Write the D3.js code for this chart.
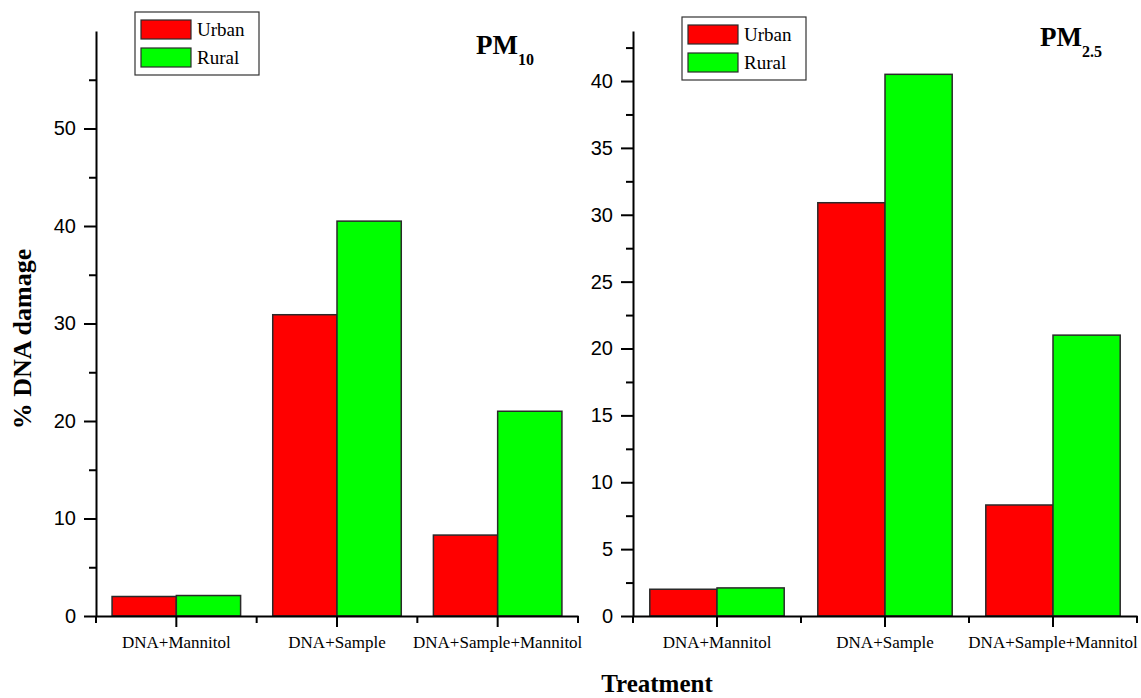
<!DOCTYPE html>
<html>
<head>
<meta charset="utf-8">
<script src="https://cdn.jsdelivr.net/npm/d3@7"></script>
<style>
  body { margin: 0; background: #fff; }
  svg { display: block; }
  .tick text { fill: #000; }
  .yax text { font-family: "Liberation Sans", Arial, sans-serif; font-size: 20px; }
  .xax text { font-family: "Liberation Serif", "Times New Roman", serif; font-size: 17px; }
</style>
</head>
<body>
<div class="chartArea"></div>
<script>
const categories = ["DNA+Mannitol", "DNA+Sample", "DNA+Sample+Mannitol"];
const seriesNames = ["Urban", "Rural"];
const urbanPM10 = [2.0, 30.9, 8.3];
const ruralPM10 = [2.1, 40.5, 21.0];
const urbanPM25 = [2.0, 30.9, 8.3];
const ruralPM25 = [2.1, 40.5, 21.0];
const pm10Ticks = [0, 10, 20, 30, 40, 50];
const pm10Minor = [5, 15, 25, 35, 45, 55];
const pm25Ticks = [0, 5, 10, 15, 20, 25, 30, 35, 40];
const pm25Minor = [2.5, 7.5, 12.5, 17.5, 22.5, 27.5, 32.5, 37.5, 42.5];
const colors = ["#ff0000", "#00ff00"];

const width = 1141;
const height = 698;
const serif = "'Liberation Serif', 'Times New Roman', serif";

const svg = d3.select(".chartArea")
    .append("svg")
    .attr("width", width)
    .attr("height", height);

svg.append("rect").attr("width", width).attr("height", height).attr("fill", "#fff");

function panel(opt) {
    const x = d3.scaleBand()
        .domain(categories)
        .range([opt.x0, opt.x1]);

    const y = d3.scaleLinear()
        .domain([0, opt.max])
        .range([616, 31]);

    const sub = d3.scaleBand()
        .domain(seriesNames)
        .range([0, x.bandwidth()])
        .paddingOuter(0.25)
        .paddingInner(0);

    const rows = categories.map((c, i) => ({cat: c, vals: [opt.urban[i], opt.rural[i]]}));

    const g = svg.append("g");
    g.selectAll("g.grp")
        .data(rows)
        .enter()
        .append("g")
        .attr("class", "grp")
        .attr("transform", d => "translate(" + x(d.cat) + ",0)")
        .selectAll("rect")
        .data(d => d.vals.map((v, i) => ({name: seriesNames[i], v: v})))
        .enter()
        .append("rect")
        .attr("x", d => sub(d.name))
        .attr("y", d => y(d.v))
        .attr("width", sub.bandwidth())
        .attr("height", d => y(0) - y(d.v))
        .attr("fill", (d, i) => colors[i])
        .attr("stroke", "#2a2a2a")
        .attr("stroke-width", 1.5);

    // y axis
    const yAxis = d3.axisLeft(y).tickValues(opt.ticks).tickSize(12).tickPadding(8).tickSizeOuter(0);
    g.append("g")
        .attr("class", "yax")
        .attr("transform", "translate(" + opt.x0 + ",0)")
        .call(yAxis);
    const yMinor = d3.axisLeft(y).tickValues(opt.minor).tickSize(7).tickFormat("").tickSizeOuter(0);
    g.append("g")
        .attr("transform", "translate(" + opt.x0 + ",0)")
        .call(yMinor)
        .select(".domain").remove();

    // x axis
    const xAxis = d3.axisBottom(x).tickSize(11).tickPadding(11).tickSizeOuter(0);
    const xa = g.append("g")
        .attr("class", "xax")
        .attr("transform", "translate(0," + y(0) + ")")
        .call(xAxis);
    xa.selectAll("text").attr("dy", "0.6em");

    const edges = categories.map(c => x(c)).concat([opt.x1]);
    g.append("g")
        .selectAll("line")
        .data(edges)
        .enter()
        .append("line")
        .attr("x1", d => d).attr("x2", d => d)
        .attr("y1", y(0)).attr("y2", y(0) + 7)
        .attr("stroke", "#000")
        .attr("stroke-width", 2);

    g.selectAll(".domain, .tick line").attr("stroke", "#000").attr("stroke-width", 2);

    // legend
    const lg = g.append("g").attr("transform", "translate(" + opt.lx + "," + opt.ly + ")");
    lg.append("rect")
        .attr("width", 124).attr("height", 63)
        .attr("fill", "#fff").attr("stroke", "#333").attr("stroke-width", 1.2);
    seriesNames.forEach((n, i) => {
        lg.append("rect")
            .attr("x", 6).attr("y", 8 + i * 28)
            .attr("width", 50).attr("height", 19)
            .attr("fill", colors[i]).attr("stroke", "#2a2a2a").attr("stroke-width", 1.2);
        lg.append("text")
            .attr("x", 62).attr("y", 24 + i * 28)
            .style("font-family", serif)
            .style("font-size", "19px")
            .text(n);
    });

    // title
    const t = g.append("text")
        .attr("x", opt.tx).attr("y", opt.ty)
        .style("font-family", serif)
        .style("font-weight", "bold")
        .style("font-size", "27px")
        .text("PM");
    t.append("tspan")
        .attr("dy", 11)
        .style("font-size", "16px")
        .text(opt.sub);
}

panel({x0: 96, x1: 578, max: 60, ticks: pm10Ticks, minor: pm10Minor,
       urban: urbanPM10, rural: ruralPM10, lx: 135, ly: 12, tx: 476, ty: 54, sub: "10"});
panel({x0: 633, x1: 1137, max: 43.74, ticks: pm25Ticks, minor: pm25Minor,
       urban: urbanPM25, rural: ruralPM25, lx: 682, ly: 17, tx: 1040, ty: 46, sub: "2.5"});

svg.append("text")
    .attr("transform", "translate(31,339) rotate(-90)")
    .attr("text-anchor", "middle")
    .style("font-family", serif)
    .style("font-weight", "bold")
    .style("font-size", "26px")
    .text("% DNA damage");

svg.append("text")
    .attr("x", 657).attr("y", 692)
    .attr("text-anchor", "middle")
    .style("font-family", serif)
    .style("font-weight", "bold")
    .style("font-size", "25px")
    .text("Treatment");
</script>
</body>
</html>
